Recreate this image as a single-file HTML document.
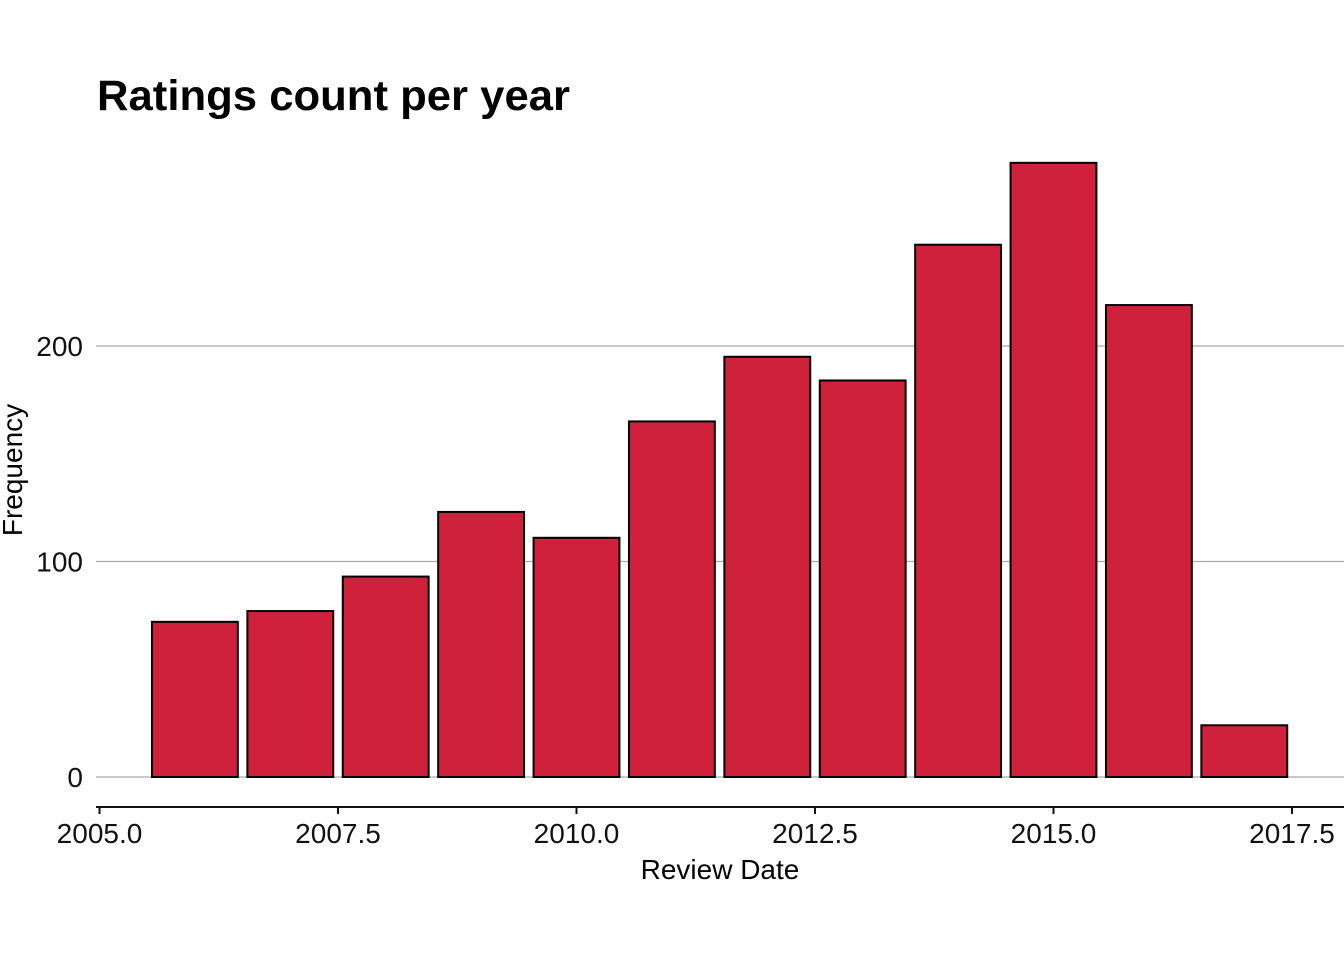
<!DOCTYPE html>
<html><head><meta charset="utf-8"><style>body{margin:0;background:#fff}svg{display:block}text{font-family:"Liberation Sans",Arial,sans-serif}</style></head>
<body>
<svg id="chart" width="1344" height="960" viewBox="0 0 1344 960">
<text x="97" y="110" font-size="43" font-weight="bold" fill="#000" textLength="473" lengthAdjust="spacingAndGlyphs">Ratings count per year</text>
<g id="grid"></g><g id="bars"></g><g id="axes"></g>
<text x="720" y="879" font-size="28" text-anchor="middle" fill="#000">Review Date</text>
<text transform="translate(22,470) rotate(-90)" font-size="28" text-anchor="middle" fill="#000">Frequency</text>
</svg>
<script>
const years=[2006,2007,2008,2009,2010,2011,2012,2013,2014,2015,2016,2017];
const counts=[72,77,93,123,111,165,195,184,247,285,219,24];
const xTicks=[2005,2007.5,2010,2012.5,2015,2017.5];
const xTickLabels=["2005.0","2007.5","2010.0","2012.5","2015.0","2017.5"];
const yTicks=[0,100,200];
const NS="http://www.w3.org/2000/svg";
const x=v=>99.5+(v-2005)*95.4;
const y=v=>777-v*2.155;
function mk(t,a,p){const e=document.createElementNS(NS,t);for(const k in a)e.setAttribute(k,a[k]);p.appendChild(e);return e;}
const grid=document.getElementById('grid'),bars=document.getElementById('bars'),axes=document.getElementById('axes');
yTicks.forEach(v=>{
 const l=mk('line',{x1:96,x2:1344,y1:y(v),y2:y(v),stroke:'#aaa','stroke-width':1.3},grid);
 
 
 const t=mk('text',{x:83,y:y(v)+10,'font-size':28,'text-anchor':'end',fill:'#111'},grid);
 t.textContent=v;
 
 
});
years.forEach((yr,i)=>{
 const r=mk('rect',{x:x(yr-0.45),y:y(counts[i]),width:x(yr+0.45)-x(yr-0.45),height:y(0)-y(counts[i]),fill:'#d0213c',stroke:'#000','stroke-width':2},bars);
 
 
});
const ax=mk('line',{x1:96,x2:1344,y1:807,y2:807,stroke:'#111','stroke-width':2},axes);


xTicks.forEach((v,i)=>{
 const tk=mk('line',{x1:x(v),x2:x(v),y1:807,y2:814,stroke:'#111','stroke-width':2},axes);
 
 
 const t=mk('text',{x:x(v),y:843,'font-size':28,'text-anchor':'middle',fill:'#111'},axes);
 t.textContent=xTickLabels[i];
 
 
});
</script>
</body></html>
